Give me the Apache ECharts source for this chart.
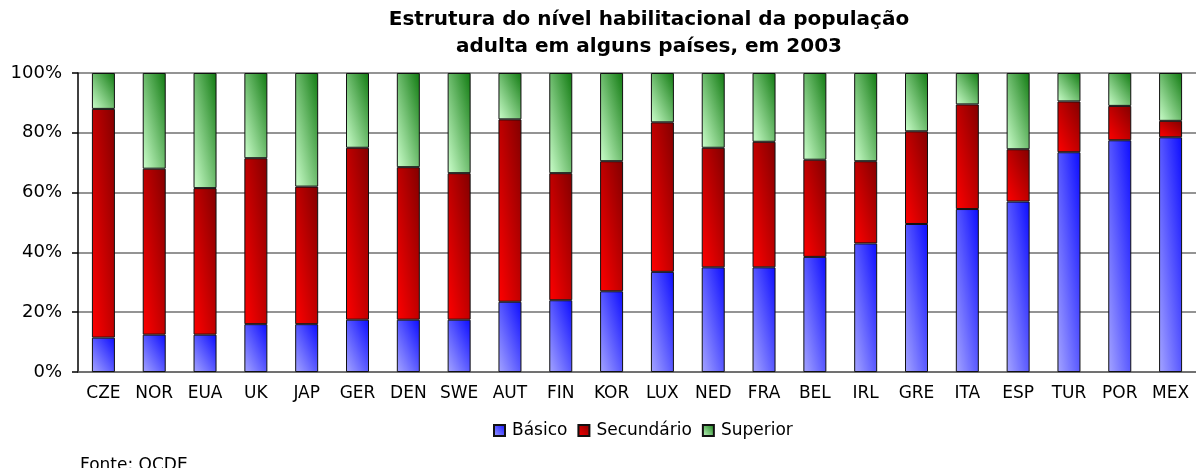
<!DOCTYPE html>
<html>
<head>
<meta charset="utf-8">
<script src="https://cdn.jsdelivr.net/npm/echarts@6/dist/echarts.min.js"></script>
<style>
  html, body { margin: 0; padding: 0; background: #fff; }
  #chart { width: 1196px; height: 468px; }
</style>
</head>
<body>
<div id="chart"></div>
<script>
// dados (% da população adulta)
var paises = ['CZE', 'NOR', 'EUA', 'UK', 'JAP', 'GER', 'DEN', 'SWE', 'AUT', 'FIN', 'KOR',
    'LUX', 'NED', 'FRA', 'BEL', 'IRL', 'GRE', 'ITA', 'ESP', 'TUR', 'POR', 'MEX'];
var basico = [11.5, 12.5, 12.5, 16, 16, 17.5, 17.5, 17.5, 23.5, 24, 27,
    33.5, 35, 35, 38.5, 43, 49.5, 54.5, 57, 73.5, 77.5, 78.5];
var secundario = [76.5, 55.5, 49, 55.5, 46, 57.5, 51, 49, 61, 42.5, 43.5,
    50, 40, 42, 32.5, 27.5, 31, 35, 17.5, 17, 11.5, 5.5];
var superior = [12, 32, 38.5, 28.5, 38, 25, 31.5, 33.5, 15.5, 33.5, 29.5,
    16.5, 25, 23, 29, 29.5, 19.5, 10.5, 25.5, 9.5, 11, 16];
var nomes = ['Básico', 'Secundário', 'Superior'];

var cores = [
    ['#a4a4ff', '#0c0cff'],
    ['#ff0000', '#820000'],
    ['#ccffcc', '#107a10']
];

// gradiente diagonal tipo Excel (claro em baixo-esq, escuro em cima-dir)
function gradiente(v, c) {
    var w = 23, h = Math.max(v * 2.99, 1);
    var t = 2 * w * h / (h * h + w * w);
    return {
        type: 'linear', x: 0, y: 1, x2: t * h / w, y2: 1 - t * w / h,
        colorStops: [{ offset: 0, color: c[0] }, { offset: 1, color: c[1] }]
    };
}

function serie(nome, valores, c) {
    return {
        name: nome,
        type: 'bar',
        stack: 'total',
        barWidth: 23,
        itemStyle: { color: gradiente(23 / 2.99, c), borderColor: '#111', borderWidth: 1 },
        data: valores.map(function (v) {
            return { value: v, itemStyle: { color: gradiente(v, c) } };
        })
    };
}

var chart = echarts.init(document.getElementById('chart'));
chart.setOption({
    animation: false,
    textStyle: { fontFamily: 'DejaVu Sans', color: '#000' },
    legend: {
        left: 488,
        top: 417,
        itemWidth: 11,
        itemHeight: 11,
        itemGap: 10,
        icon: 'rect',
        data: nomes,
        textStyle: { fontSize: 17, color: '#000', padding: [0, 0, 0, 2] }
    },
    grid: { left: 78, right: -6, top: 73, bottom: 96 },
    xAxis: {
        type: 'category',
        data: paises,
        axisLine: { lineStyle: { color: '#666', width: 1.5 } },
        axisTick: { length: 6, lineStyle: { color: '#555', width: 1.5 } },
        axisLabel: { interval: 0, fontSize: 17, color: '#000', margin: 13 }
    },
    yAxis: {
        type: 'value',
        min: 0,
        max: 100,
        interval: 20,
        axisLine: { show: true, lineStyle: { color: '#000', width: 1.5 } },
        axisTick: { show: true, length: 6, lineStyle: { color: '#000', width: 1.5 } },
        axisLabel: { fontSize: 18, color: '#000', margin: 16, formatter: '{value}%' },
        splitLine: { lineStyle: { color: '#707070', width: 1.5 } }
    },
    graphic: [{
        type: 'text',
        x: 649,
        y: 6,
        style: {
            text: 'Estrutura do nível habilitacional da população\nadulta em alguns países, em 2003',
            font: 'bold 20px "DejaVu Sans"',
            lineHeight: 27,
            align: 'center',
            verticalAlign: 'top',
            fill: '#000'
        }
    }, {
        type: 'text',
        left: 80,
        top: 457,
        style: { text: 'Fonte: OCDE', fontSize: 17, fontFamily: 'DejaVu Sans', fill: '#000' }
    }],
    series: [
        serie(nomes[0], basico, cores[0]),
        serie(nomes[1], secundario, cores[1]),
        serie(nomes[2], superior, cores[2])
    ]
});
</script>
</body>
</html>
